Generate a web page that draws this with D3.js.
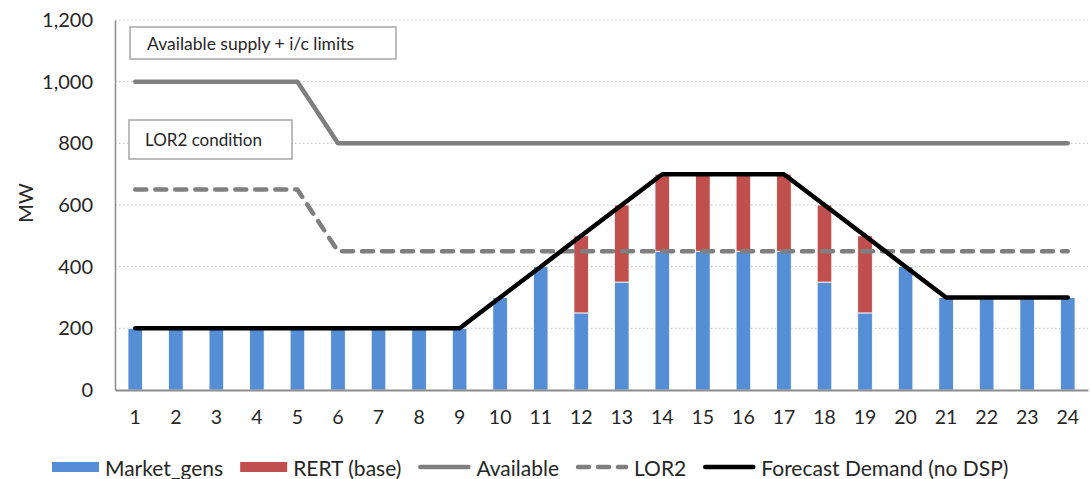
<!DOCTYPE html>
<html>
<head>
<meta charset="utf-8">
<script src="https://cdn.jsdelivr.net/npm/d3@7"></script>
<style>
  html, body { margin: 0; padding: 0; background: #fff; }
  svg { display: block; font-family: Lato, "Open Sans", sans-serif; }
</style>
</head>
<body>
<svg id="chart" width="1091" height="479"></svg>
<script>
// Trading intervals
const intervals = d3.range(1, 25);
// Stacked bars (MW)
const marketGens = [200,200,200,200,200,200,200,200,200,300,400,250,350,450,450,450,450,350,250,400,300,300,300,300];
const rertBase   = [0,0,0,0,0,0,0,0,0,0,0,250,250,250,250,250,250,250,250,0,0,0,0,0];
// Lines (MW)
const available      = [1000,1000,1000,1000,1000,800,800,800,800,800,800,800,800,800,800,800,800,800,800,800,800,800,800,800];
const lor2           = [650,650,650,650,650,450,450,450,450,450,450,450,450,450,450,450,450,450,450,450,450,450,450,450];
const forecastDemand = [200,200,200,200,200,200,200,200,200,300,400,500,600,700,700,700,700,600,500,400,300,300,300,300];
// Axis ticks
const yTicks = [0, 200, 400, 600, 800, 1000, 1200];

const svg = d3.select("#chart");
const plot = { left: 115, right: 1088, top: 20, bottom: 390 };

const x = d3.scaleBand().domain(intervals).range([plot.left, plot.right])
  .paddingInner(0.64).paddingOuter(0.32);
const y = d3.scaleLinear().domain([0, 1200]).range([plot.bottom, plot.top]);
const cx = d => x(d) + x.bandwidth() / 2;

const fmt = d3.format(",");

// Horizontal gridlines
svg.append("g").selectAll("line").data(yTicks.filter(t => t > 0)).join("line")
  .attr("x1", plot.left).attr("x2", plot.right)
  .attr("y1", d => y(d)).attr("y2", d => y(d))
  .attr("stroke", "#c8c8c8").attr("stroke-width", 1.2)
  .attr("stroke-dasharray", "1.5,2.5");

// Y axis
const yAxis = svg.append("g").attr("transform", `translate(${plot.left},0)`)
  .call(d3.axisLeft(y).tickValues(yTicks).tickFormat(fmt).tickSize(0).tickPadding(22));
yAxis.select(".domain").attr("stroke", "#8c8c8c").attr("stroke-width", 1.5);
yAxis.selectAll("text").attr("font-size", 20).attr("fill", "#262626")
  .attr("font-family", "Lato, sans-serif");

// Y axis title
svg.append("text")
  .attr("transform", `translate(25,203) rotate(-90)`)
  .attr("text-anchor", "middle").attr("dominant-baseline", "central")
  .attr("font-size", 20).attr("fill", "#262626").text("MW");

// Bars
const stackData = intervals.map((d, i) => ({ t: d, m: marketGens[i], r: rertBase[i] }));
const bars = svg.append("g");
bars.selectAll("rect.m").data(stackData).join("rect").attr("class", "m")
  .attr("x", d => x(d.t)).attr("width", x.bandwidth())
  .attr("y", d => y(d.m)).attr("height", d => y(0) - y(d.m))
  .attr("fill", "#558ED5").attr("stroke", "#fff").attr("stroke-width", 0.8);
bars.selectAll("rect.r").data(stackData.filter(d => d.r > 0)).join("rect").attr("class", "r")
  .attr("x", d => x(d.t)).attr("width", x.bandwidth())
  .attr("y", d => y(d.m + d.r)).attr("height", d => y(d.m) - y(d.m + d.r))
  .attr("fill", "#C0504D").attr("stroke", "#fff").attr("stroke-width", 0.8);

// X axis
const xAxis = svg.append("g").attr("transform", `translate(0,${plot.bottom})`)
  .call(d3.axisBottom(x).tickSize(0).tickPadding(20));
xAxis.select(".domain").attr("stroke", "#8c8c8c").attr("stroke-width", 2);
xAxis.selectAll("text").attr("font-size", 19.5).attr("fill", "#262626")
  .attr("font-family", "Lato, sans-serif");

// Series lines
const line = vals => d3.line().x((d, i) => cx(intervals[i])).y(d => y(d))(vals);
svg.append("path").attr("d", line(available)).attr("fill", "none")
  .attr("stroke", "#7f7f7f").attr("stroke-width", 4.5).attr("stroke-linejoin", "round").attr("stroke-linecap", "round");
svg.append("path").attr("d", line(lor2)).attr("fill", "none")
  .attr("stroke", "#7f7f7f").attr("stroke-width", 4.5).attr("stroke-dasharray", "11,9")
  .attr("stroke-linecap", "round").attr("stroke-linejoin", "round");
svg.append("path").attr("d", line(forecastDemand)).attr("fill", "none")
  .attr("stroke", "#000").attr("stroke-width", 4.5).attr("stroke-linejoin", "round").attr("stroke-linecap", "round");

// Annotation boxes
const notes = [
  { label: "Available supply + i/c limits", x: 130, y: 27, w: 266, h: 32, size: 17.5, pad: 17 },
  { label: "LOR2 condition", x: 129, y: 120, w: 163, h: 39, size: 17, pad: 16 }
];
notes.forEach(n => {
  svg.append("rect").attr("x", n.x).attr("y", n.y).attr("width", n.w).attr("height", n.h)
    .attr("fill", "#fff").attr("stroke", "#a6a6a6").attr("stroke-width", 1.5);
  svg.append("text").attr("x", n.x + n.pad).attr("y", n.y + n.h / 2)
    .attr("dominant-baseline", "central").attr("font-size", n.size).attr("fill", "#262626")
    .text(n.label);
});

// Legend
const legendItems = [
  { label: "Market_gens", type: "rect", color: "#558ED5" },
  { label: "RERT (base)", type: "rect", color: "#C0504D" },
  { label: "Available", type: "line", color: "#7f7f7f" },
  { label: "LOR2", type: "dash", color: "#7f7f7f" },
  { label: "Forecast Demand (no DSP)", type: "line", color: "#000" }
];
const legend = svg.append("g");
let lx = 52;
const ly = 467;
legendItems.forEach(item => {
  const sw = item.type === "rect" ? 47 : 52;
  if (item.type === "rect") {
    legend.append("rect").attr("x", lx).attr("y", ly - 5).attr("width", sw).attr("height", 10).attr("fill", item.color);
  } else {
    legend.append("line").attr("x1", lx + 2).attr("x2", lx + sw - 2).attr("y1", ly).attr("y2", ly)
      .attr("stroke", item.color).attr("stroke-width", 4.5).attr("stroke-linecap", "round")
      .attr("stroke-dasharray", item.type === "dash" ? "11,9" : null);
  }
  const t = legend.append("text").attr("x", lx + sw + 6).attr("y", ly)
    .attr("dominant-baseline", "central").attr("font-size", 21).attr("fill", "#262626").text(item.label);
  lx += sw + 6 + t.node().getComputedTextLength() + 17;
});
</script>
</body>
</html>
